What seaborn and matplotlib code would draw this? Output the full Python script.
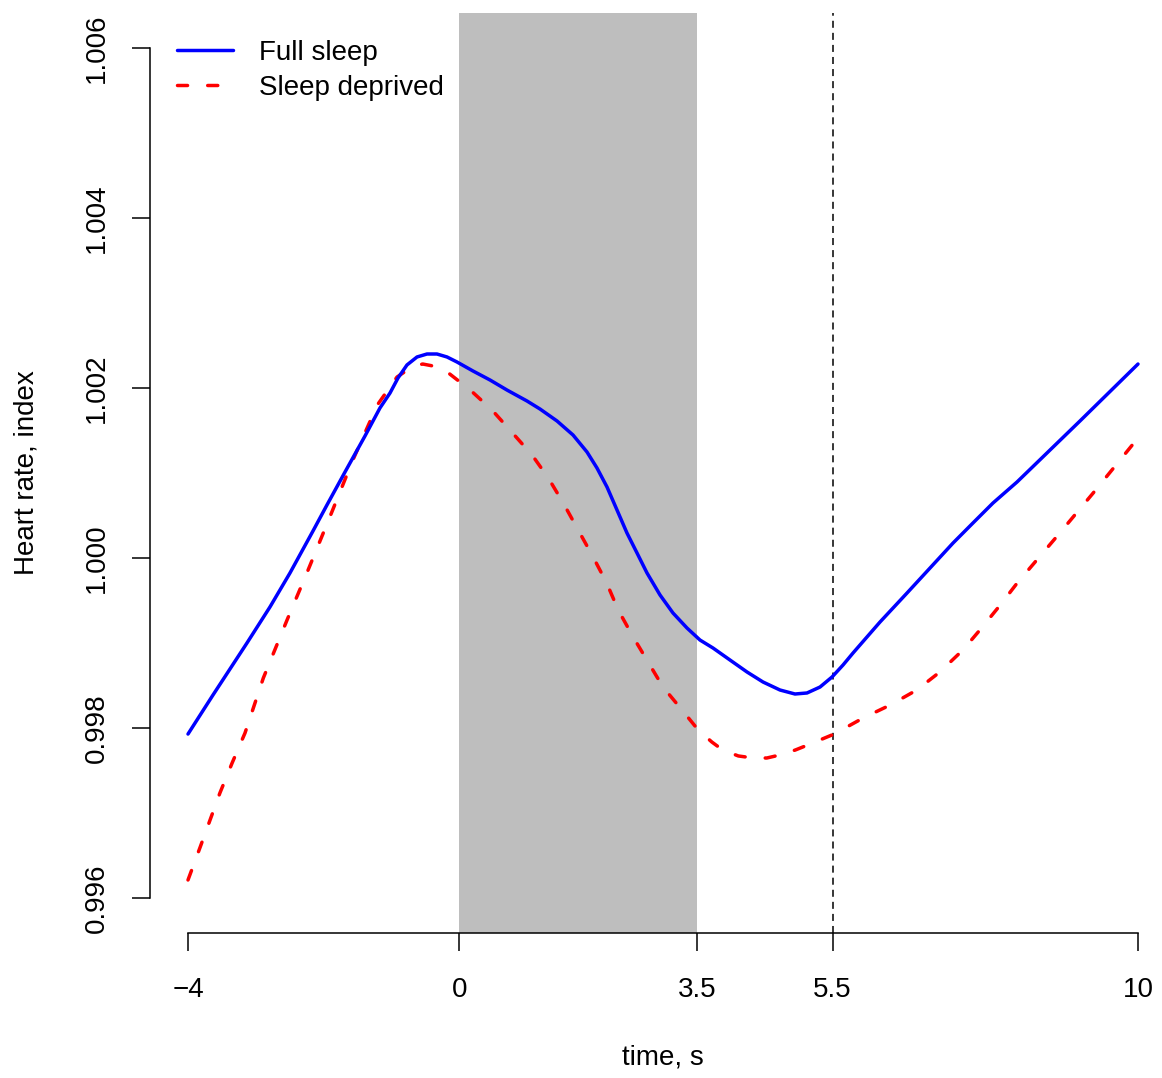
import matplotlib
matplotlib.use("Agg")
import matplotlib.pyplot as plt
import numpy as np
import pandas as pd
import seaborn as sns

# ---------------- data ----------------
time_full = [-4.000, -3.632, -3.131, -2.792, -2.497, -2.158, -1.952, -1.686, -1.392, -1.171,
             -1.023, -0.905, -0.773, -0.625, -0.478, -0.331, -0.183, -0.036, 0.200, 0.451,
             0.701, 0.996, 1.187, 1.438, 1.674, 1.880, 2.027, 2.175, 2.322, 2.469,
             2.617, 2.764, 2.956, 3.147, 3.354, 3.545, 3.737, 3.987, 4.238, 4.474,
             4.724, 4.945, 5.122, 5.314, 5.491, 5.653, 5.800, 6.006, 6.198, 6.596,
             6.935, 7.274, 7.568, 7.863, 8.217, 9.145, 10.000]
hr_full = [0.997929, 0.998388, 0.999000, 0.999424, 0.999824, 1.000318, 1.000624, 1.001012, 1.001435, 1.001765,
           1.001941, 1.002118, 1.002271, 1.002365, 1.002400, 1.002400, 1.002365, 1.002306, 1.002200, 1.002094,
           1.001976, 1.001847, 1.001753, 1.001612, 1.001447, 1.001247, 1.001059, 1.000835, 1.000565, 1.000294,
           1.000059, 0.999824, 0.999565, 0.999353, 0.999176, 0.999035, 0.998941, 0.998800, 0.998659, 0.998541,
           0.998447, 0.998400, 0.998412, 0.998482, 0.998600, 0.998741, 0.998882, 0.999071, 0.999247, 0.999588,
           0.999882, 1.000176, 1.000412, 1.000647, 1.000894, 1.001612, 1.002282]

time_dep = [-4.00, -3.82, -3.53, -3.35, -3.16, -2.89, -2.54, -2.23, -1.91, -1.57,
            -1.21, -0.92, -0.68, -0.54, -0.39, -0.18, 0.16, 0.48, 0.77, 1.07,
            1.31, 1.53, 1.75, 1.97, 2.17, 2.34, 2.56, 2.78, 3.00, 3.28,
            3.40, 3.52, 3.72, 3.88, 4.11, 4.33, 4.53, 4.72, 4.95, 5.17,
            5.49, 5.71, 5.95, 6.35, 6.74, 7.08, 7.42, 7.67, 7.97, 8.22,
            8.81, 9.34, 10.00]
hr_dep = [0.996212, 0.996600, 0.997235, 0.997588, 0.997941, 0.998588, 0.999271, 0.999859, 1.000482, 1.001153,
          1.001800, 1.002129, 1.002259, 1.002282, 1.002259, 1.002188, 1.001976, 1.001741, 1.001482, 1.001212,
          1.000941, 1.000647, 1.000329, 1.000012, 0.999706, 0.999388, 0.999071, 0.998776, 0.998482, 0.998212,
          0.998094, 0.997976, 0.997835, 0.997741, 0.997671, 0.997647, 0.997647, 0.997682, 0.997741, 0.997812,
          0.997918, 0.998012, 0.998118, 0.998271, 0.998447, 0.998659, 0.998918, 0.999153, 0.999447, 0.999706,
          1.000259, 1.000765, 1.001412]

series_names = ["Full sleep", "Sleep deprived"]
x_ticks = [-4, 0, 3.5, 5.5, 10]
x_tick_labels = ["\u22124", "0", "3.5", "5.5", "10"]
y_ticks = [0.996, 0.998, 1.000, 1.002, 1.004, 1.006]
y_tick_labels = ["0.996", "0.998", "1.000", "1.002", "1.004", "1.006"]
shade_start, shade_end = 0.0, 3.5
event_time = 5.5
x_label = "time, s"
y_label = "Heart rate, index"

# ---------------- style ----------------
sns.set_style("white")
plt.rcParams["font.family"] = ["Liberation Sans", "DejaVu Sans"]
plt.rcParams["text.color"] = "black"

W, H = 1162, 1078
fig = plt.figure(figsize=(W / 100, H / 100), dpi=100)
ax_left, ax_right, ax_top, ax_bottom = 150, 1162, 13, 933
ax = fig.add_axes([ax_left / W, 1 - ax_bottom / H, (ax_right - ax_left) / W, (ax_bottom - ax_top) / H])

df_full = pd.DataFrame({"time": time_full, "hr": hr_full})
df_dep = pd.DataFrame({"time": time_dep, "hr": hr_dep})

ax.axvspan(shade_start, shade_end, color="#BEBEBE", lw=0, zorder=0)
ax.axvline(event_time, color="black", lw=1.1, dashes=(4.6, 3.3), zorder=1)

sns.lineplot(data=df_full, x="time", y="hr", ax=ax, color="blue", lw=2.5,
             estimator=None, label=series_names[0], zorder=3)
l1 = ax.lines[-1]
sns.lineplot(data=df_dep, x="time", y="hr", ax=ax, color="red", lw=2.5,
             estimator=None, label=series_names[1], zorder=2)
l2 = ax.lines[-1]
l2.set_dashes((2.9, 5.8))
l2.set_dash_capstyle("round")
l1.set_solid_capstyle("round")
l1.set_solid_joinstyle("round")
l2.set_dash_joinstyle("round")

ax.set_xlim(-4 - 38 / 67.857, 10 + 24 / 67.857)
ax.set_ylim(1 - (933 - 558) / 85000, 1 + (558 - 13) / 85000)

for s in ["top", "right"]:
    ax.spines[s].set_visible(False)
for s in ["left", "bottom"]:
    ax.spines[s].set_linewidth(1.1)
    ax.spines[s].set_color("black")
ax.spines["left"].set_bounds(y_ticks[0], y_ticks[-1])
ax.spines["bottom"].set_bounds(x_ticks[0], x_ticks[-1])

ax.set_xticks(x_ticks)
ax.set_xticklabels(x_tick_labels)
ax.set_yticks(y_ticks)
ax.set_yticklabels(y_tick_labels, rotation=90, va="center")
ax.tick_params(axis="both", direction="out", length=13, width=1.1, colors="black",
               labelcolor="black", labelsize=20, bottom=True, left=True)
ax.tick_params(axis="x", pad=18.6)
ax.tick_params(axis="y", pad=15.6)

ax.set_xlabel(x_label, fontsize=20, color="black")
ax.set_ylabel(y_label, fontsize=20, color="black")
ax.xaxis.set_label_coords((663 - ax_left) / (ax_right - ax_left), (ax_bottom - 1057) / (ax_bottom - ax_top))
ax.xaxis.label.set_va("center")
ax.yaxis.set_label_coords((27 - ax_left) / (ax_right - ax_left), (ax_bottom - 473) / (ax_bottom - ax_top))
ax.yaxis.label.set_va("center")

leg = ax.legend(handles=[l1, l2], labels=series_names, loc="upper left",
                bbox_to_anchor=(177 / W, 1 - 40 / H), bbox_transform=fig.transFigure,
                frameon=False, fontsize=20, handlelength=2.0, handletextpad=0.95,
                labelspacing=0.32, borderpad=0, borderaxespad=0)
for t in leg.get_texts():
    t.set_color("black")

fig.savefig("out.png", dpi=100)
